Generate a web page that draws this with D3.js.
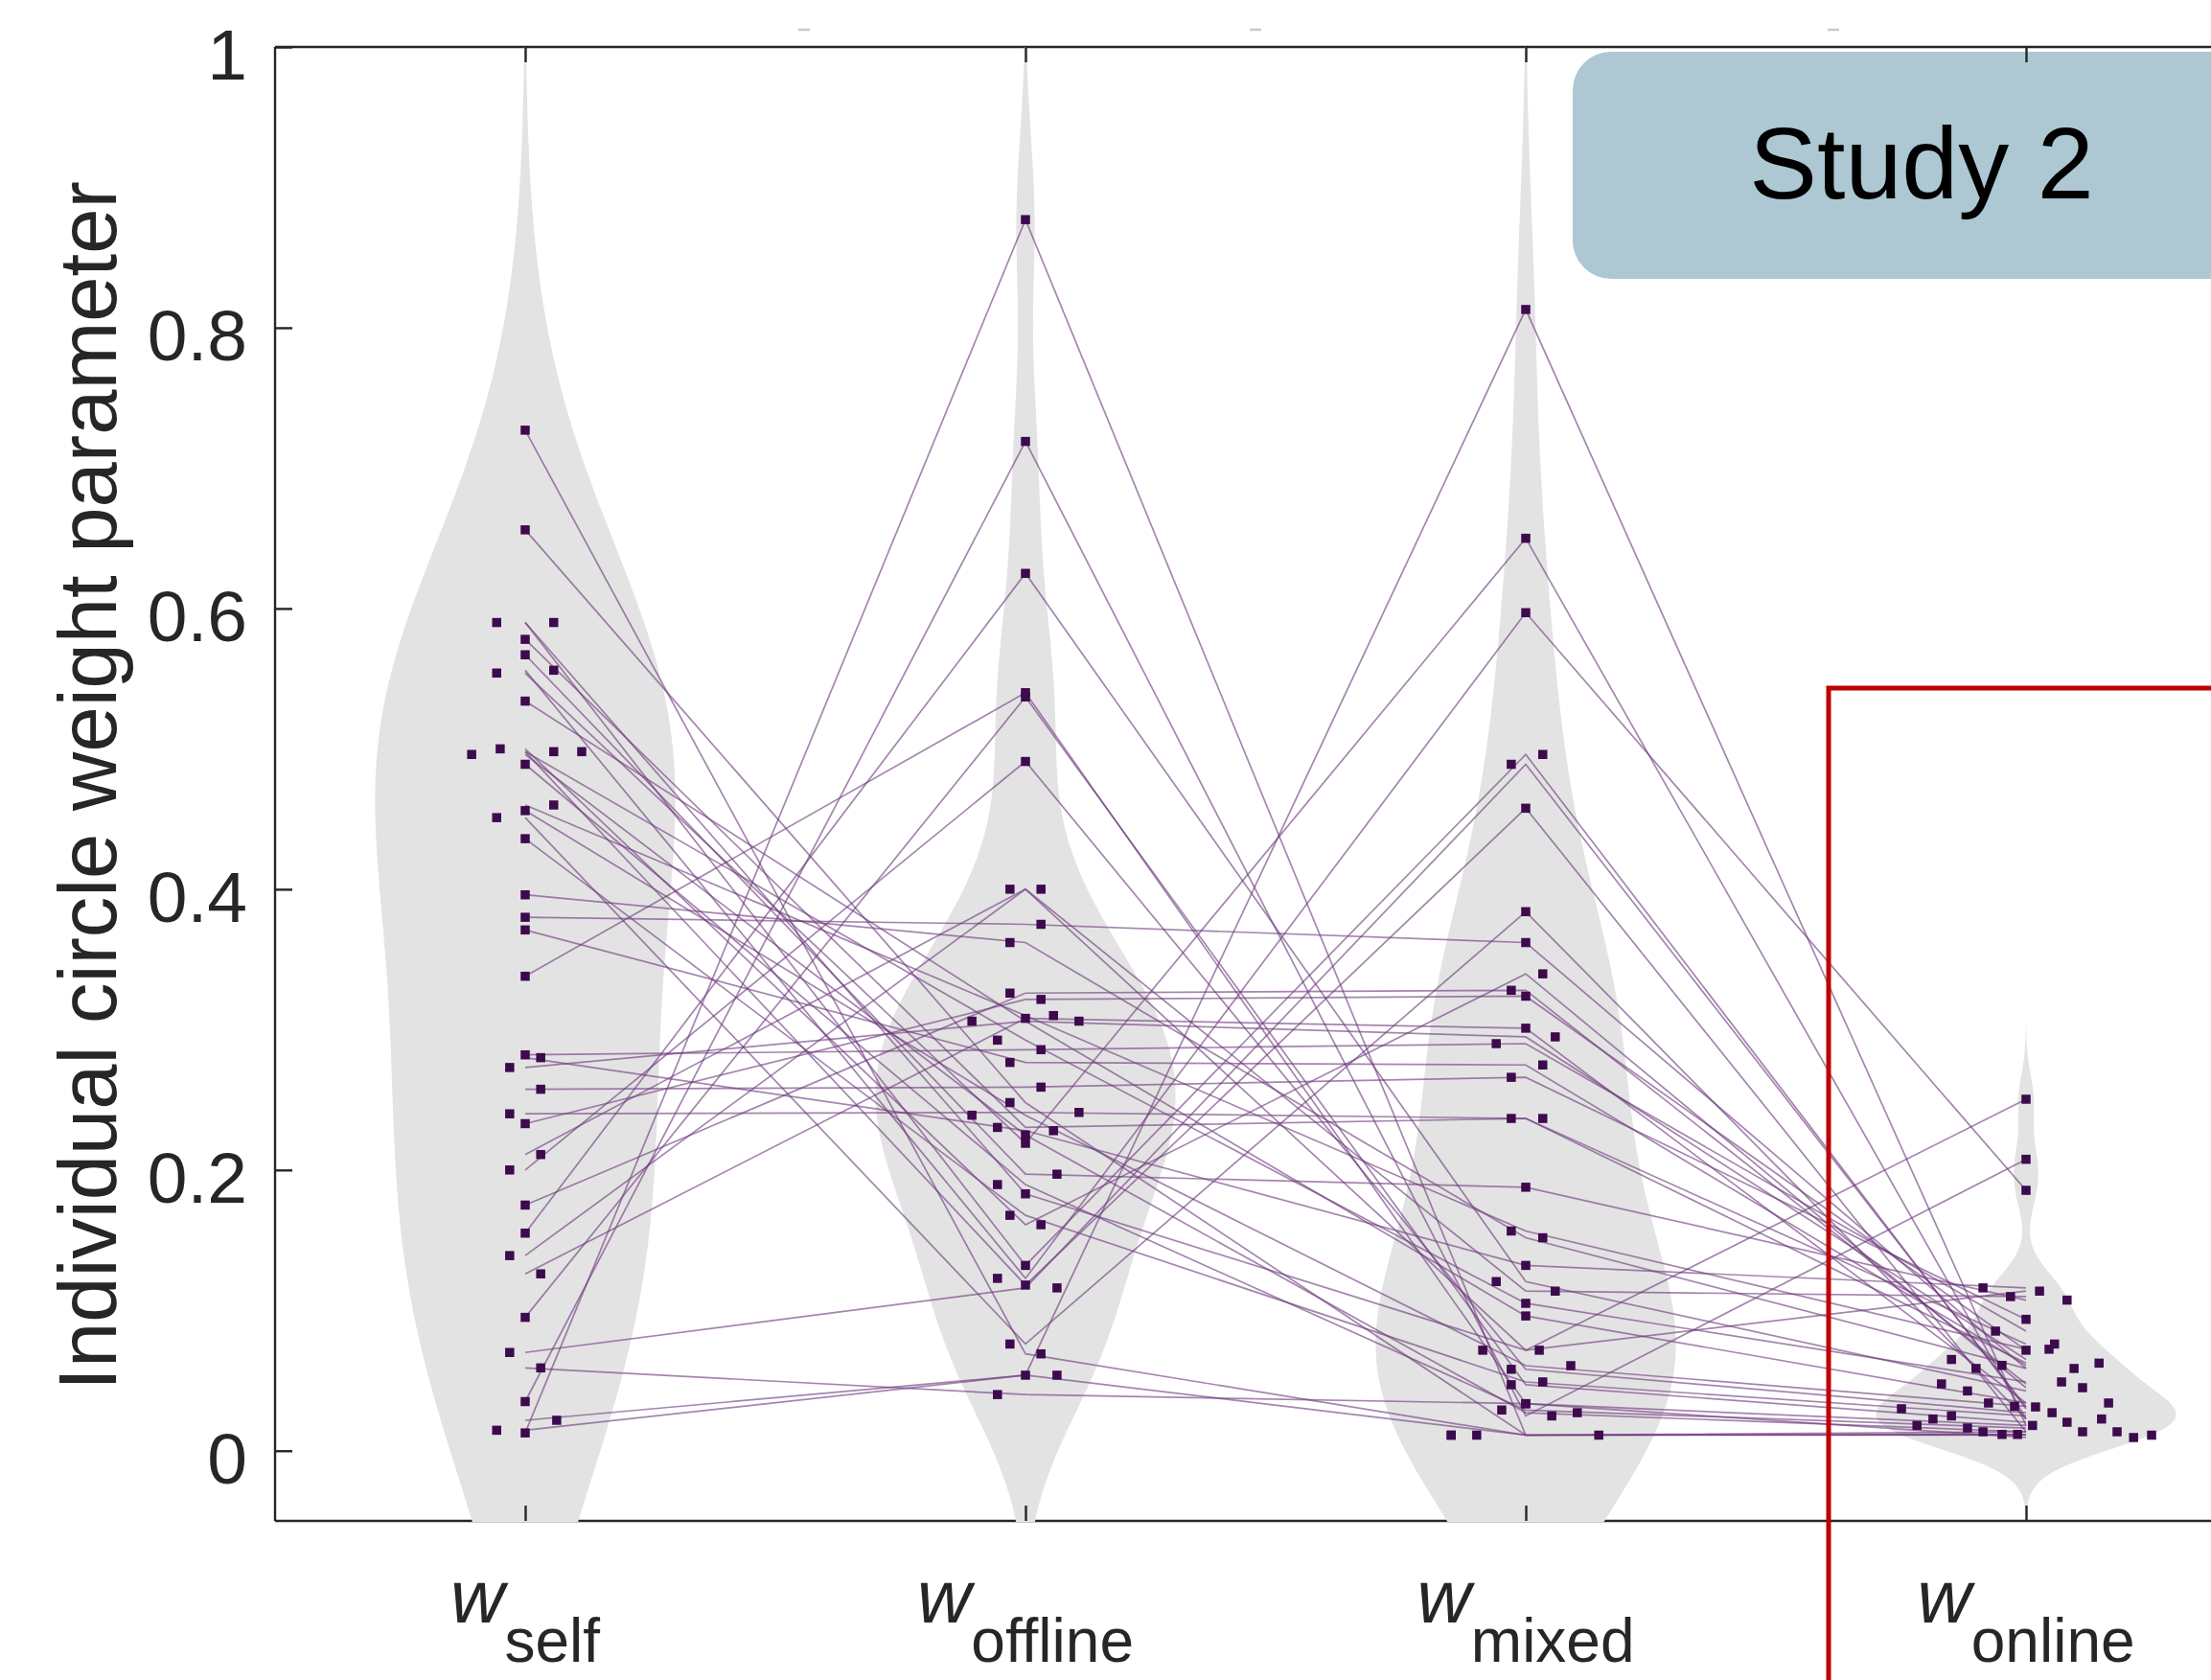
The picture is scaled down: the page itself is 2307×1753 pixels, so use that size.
<!DOCTYPE html>
<html><head><meta charset="utf-8">
<script src="https://cdn.jsdelivr.net/npm/d3@7"></script>
<style>body{margin:0;background:#fff}svg{display:block}</style>
</head><body><svg id="chart" width="2307" height="1753"></svg>
<script>
// ---------------- DATA ----------------
const categories = ["self", "offline", "mixed", "online"];
const yTicks = [0, 0.2, 0.4, 0.6, 0.8, 1];
const yLabel = "Individual circle weight parameter";
const panelLabel = "Study 2";

// one entry per participant (same order in every array)
const selfValues    = [0.727,0.656,0.590,0.590,0.578,0.567,0.556,0.554,0.534,0.500,0.498,0.498,0.496,0.489,0.460,0.456,0.451,0.436,0.396,0.380,0.371,0.338,0.282,0.280,0.273,0.2575,0.240,0.233,0.211,0.200,0.175,0.155,0.139,0.126,0.095,0.070,0.059,0.035,0.0217,0.0146,0.0127];
const offlineValues = [0.069,0.248,0.183,0.132,0.2303,0.197,0.1228,0.219,0.306,0.161,0.2925,0.118,0.225,0.1896,0.310,0.239,0.076,0.1677,0.362,0.375,0.2766,0.540,0.2857,0.228,0.306,0.259,0.241,0.3215,0.400,0.491,0.326,0.625,0.400,0.308,0.537,0.116,0.040,0.719,0.0538,0.0538,0.877];
const mixedValues   = [0.0111,0.0111,0.0716,0.496,0.2367,0.1877,0.597,0.650,0.096,0.3397,0.105,0.4577,0.0271,0.029,0.1565,0.0606,0.384,0.049,0.1517,0.362,0.2748,0.0335,0.290,0.132,0.2948,0.266,0.2367,0.3238,0.1137,0.058,0.328,0.1205,0.0716,0.301,0.047,0.489,0.0335,0.0248,0.813,0.0111,0.0111];
const onlineValues  = [0.0135,0.0116,0.1137,0.0299,0.0624,0.1073,0.1855,0.0226,0.034,0.0449,0.049,0.0135,0.0135,0.0162,0.0723,0.0317,0.0226,0.0248,0.0586,0.0586,0.0608,0.018,0.0852,0.116,0.065,0.0936,0.076,0.0716,0.1098,0.0271,0.0476,0.0426,0.2504,0.034,0.0203,0.0312,0.0094,0.2076,0.018,0.0111,0.0116];

// horizontal jitter of each dot, in units of category spacing
const selfJitter    = [0,0,-0.057,0.057,0,0,0.057,-0.057,0,-0.050,0.057,0.113,-0.107,0,0.057,0,-0.057,0,0,0,0,0,0,0.031,-0.031,0.031,-0.031,0,0.031,-0.031,0,0,-0.031,0.031,0,-0.031,0.031,0,0.063,-0.057,0];
const offlineJitter = [0.031,-0.031,0,0,-0.056,0.063,-0.056,0,0.107,0.031,-0.056,0,0,-0.056,0.056,-0.107,-0.031,-0.031,-0.031,0.031,-0.031,0,0.031,0.056,-0.107,0.031,0.107,0.031,-0.031,0,-0.031,0,0.031,0,0,0.063,-0.056,0,0,0.063,0];
const mixedJitter   = [0.146,-0.098,0.027,0.034,0.034,0,0,0,0,0.034,0,0,0.103,-0.048,-0.029,0.090,0,0.034,0.034,0,0.034,0,-0.059,0,0.059,-0.029,-0.029,0,0.059,-0.029,-0.029,-0.059,-0.086,0,-0.029,-0.029,0,0.052,0,-0.149,-0.149];
const onlineJitter  = [0.182,-0.017,0.027,-0.249,0.146,0.082,0,0.151,0.165,0.113,0.071,-0.086,0.113,-0.117,0.046,-0.023,-0.186,-0.149,0.096,-0.100,-0.048,0.013,-0.061,-0.086,-0.149,0,0.057,0,-0.031,0.052,-0.169,-0.117,0,-0.075,0.082,0.019,0.215,0,-0.218,0.251,-0.048];

// ---------------- CHART ----------------
const font = "'Liberation Sans', Arial, Helvetica, sans-serif";
const axisColor = "#262626";
const svg = d3.select("#chart");
svg.append("rect").attr("width", 2307).attr("height", 1753).attr("fill", "#fff");

const plot = {left: 287, right: 2375, top: 49, bottom: 1587};
const x = d3.scaleLinear().domain([-0.5, 3.5]).range([plot.left, plot.right]);
const y = d3.scaleLinear().domain([-0.05, 1]).range([plot.bottom, plot.top]);

const columns = [selfValues, offlineValues, mixedValues, onlineValues];
const jitters = [selfJitter, offlineJitter, mixedJitter, onlineJitter];

svg.append("clipPath").attr("id", "clip").append("rect")
  .attr("x", plot.left).attr("y", plot.top)
  .attr("width", plot.right - plot.left).attr("height", plot.bottom - plot.top + 1);

// faint remnants of a cropped title above the axes
[839, 1310, 1913].forEach(cx => {
  svg.append("line").attr("x1", cx - 6).attr("x2", cx + 6).attr("y1", 31).attr("y2", 31)
    .attr("stroke", "#c8c8c8").attr("stroke-width", 2.5);
});

// axis box lines (left, top, bottom)
const box = svg.append("g").attr("stroke", axisColor).attr("stroke-width", 2.4);
box.append("line").attr("x1", plot.left).attr("x2", plot.left).attr("y1", plot.top).attr("y2", plot.bottom);
box.append("line").attr("x1", plot.left).attr("x2", plot.right).attr("y1", plot.top).attr("y2", plot.top);
box.append("line").attr("x1", plot.left).attr("x2", plot.right).attr("y1", plot.bottom).attr("y2", plot.bottom);

// violins (Gaussian KDE, robust Silverman bandwidth)
function bandwidth(v) {
  const med = d3.median(v);
  const mad = d3.median(v.map(d => Math.abs(d - med)));
  return (mad / 0.6745) * Math.pow(4 / (3 * v.length), 0.2);
}
function kde(v) {
  const bw = bandwidth(v);
  const lo = d3.min(v) - 3 * bw, hi = d3.max(v) + 3 * bw, n = 240;
  return d3.range(n + 1).map(i => {
    const t = lo + (hi - lo) * i / n;
    return [t, d3.sum(v, d => Math.exp(-0.5 * ((t - d) / bw) ** 2))];
  });
}
const violinG = svg.append("g").attr("clip-path", "url(#clip)");
columns.forEach((vals, i) => {
  const dens = kde(vals);
  const maxD = d3.max(dens, d => d[1]);
  const area = d3.area()
    .y(d => y(d[0]))
    .x0(d => x(i - 0.3 * d[1] / maxD))
    .x1(d => x(i + 0.3 * d[1] / maxD))
    .curve(d3.curveLinear);
  violinG.append("path").datum(dens).attr("d", area).attr("fill", "#e3e3e3");
});

// participant lines
const participants = selfValues.map((s, k) => [s, offlineValues[k], mixedValues[k], onlineValues[k]]);
const line = d3.line().x((d, i) => x(i)).y(d => y(d));
svg.append("g").attr("clip-path", "url(#clip)")
  .selectAll("path").data(participants).join("path")
  .attr("d", line).attr("fill", "none")
  .attr("stroke", "#6e3a7c").attr("stroke-opacity", 0.62).attr("stroke-width", 1.7);

// dots
const dotSize = 9.5;
const dotG = svg.append("g").attr("clip-path", "url(#clip)");
columns.forEach((vals, i) => {
  dotG.selectAll(null).data(vals).join("rect")
    .attr("x", (d, k) => x(i + jitters[i][k]) - dotSize / 2)
    .attr("y", d => y(d) - dotSize / 2)
    .attr("width", dotSize).attr("height", dotSize)
    .attr("fill", "#3d0a4e");
});

// Study 2 panel label
svg.append("rect").attr("x", 1641).attr("y", 54).attr("width", 800).attr("height", 237)
  .attr("rx", 40).attr("ry", 40).attr("fill", "#adc8d3");
svg.append("text").attr("x", 2005).attr("y", 207).attr("text-anchor", "middle")
  .attr("font-family", font).attr("font-size", 106).attr("fill", "#000").text(panelLabel);

// y axis ticks & labels
const yAxis = d3.axisLeft(y).tickValues(yTicks).tickSize(-18).tickPadding(29)
  .tickFormat(d => String(d));
const gy = svg.append("g").attr("transform", `translate(${plot.left},0)`).call(yAxis);
gy.select(".domain").remove();
gy.selectAll(".tick line").attr("stroke", axisColor).attr("stroke-width", 2.4);
gy.selectAll(".tick text").attr("font-family", font).attr("font-size", 75)
  .attr("fill", axisColor).attr("dy", "0.45em");

// x axis ticks (bottom, pointing in) and top ticks
const catIdx = d3.range(categories.length);
const xAxisB = d3.axisBottom(x).tickValues(catIdx).tickSize(-16).tickFormat("");
const gxb = svg.append("g").attr("transform", `translate(0,${plot.bottom})`).call(xAxisB);
gxb.select(".domain").remove();
gxb.selectAll(".tick line").attr("stroke", axisColor).attr("stroke-width", 2.4);
const xAxisT = d3.axisTop(x).tickValues(catIdx).tickSize(-16).tickFormat("");
const gxt = svg.append("g").attr("transform", `translate(0,${plot.top})`).call(xAxisT);
gxt.select(".domain").remove();
gxt.selectAll(".tick line").attr("stroke", axisColor).attr("stroke-width", 2.4);

// x category labels: italic w with subscript
catIdx.forEach(i => {
  const t = svg.append("text").attr("x", x(i)).attr("y", 1693).attr("text-anchor", "middle")
    .attr("font-family", font).attr("fill", axisColor);
  t.append("tspan").attr("font-style", "italic").attr("font-size", 78).text("w");
  t.append("tspan").attr("font-size", 64).attr("dy", 41).text(categories[i]);
});

// y axis title
svg.append("text").attr("transform", "translate(121,820) rotate(-90)")
  .attr("text-anchor", "middle").attr("font-family", font).attr("font-size", 85)
  .attr("fill", axisColor).text(yLabel);

// red highlight rectangle
svg.append("rect").attr("x", 1908).attr("y", 718).attr("width", 700).attr("height", 1300)
  .attr("fill", "none").attr("stroke", "#c00000").attr("stroke-width", 5);
</script>
</body></html>
